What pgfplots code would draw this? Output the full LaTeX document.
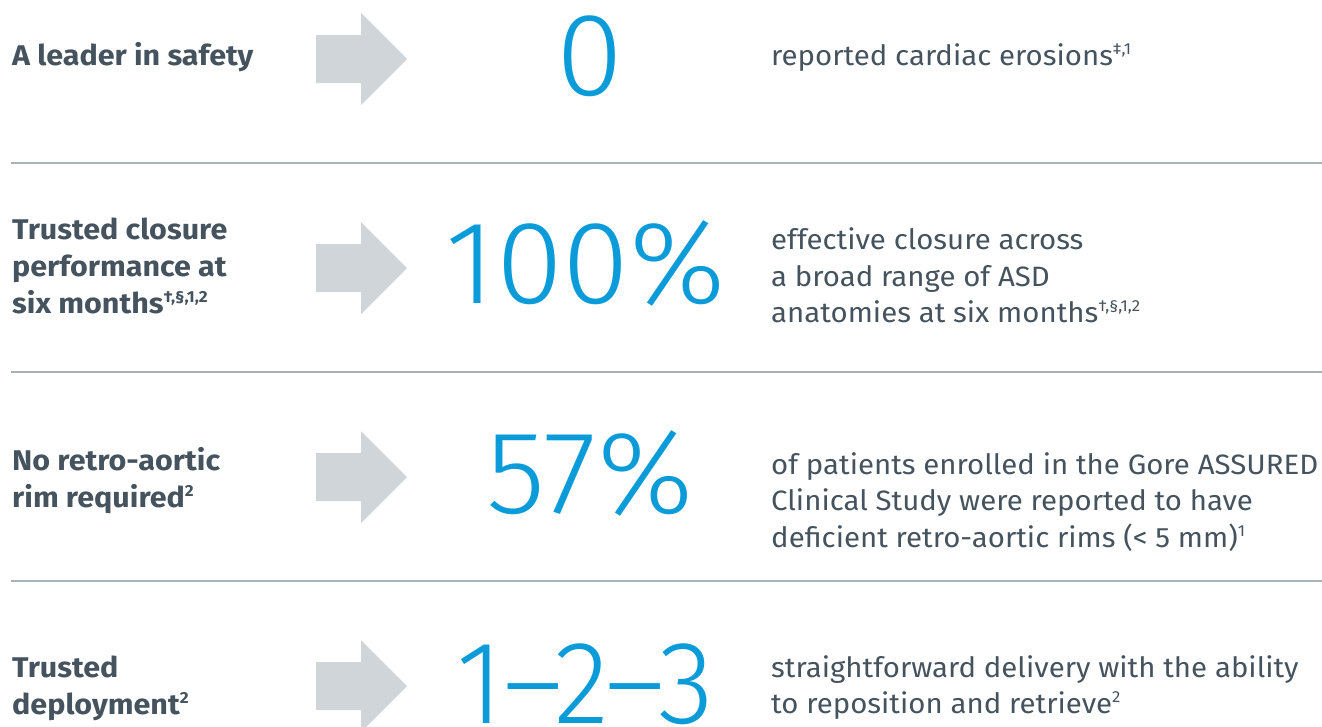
\documentclass[border=0pt]{standalone}
\usepackage{fontspec}
\setmainfont{Fira Sans}
\newfontfamily\hdfont[FakeStretch=1.07]{Fira Sans}
\newfontfamily\bdfont[FakeStretch=1.05]{Fira Sans}
\newfontfamily\thinfont[FakeStretch=1.03]{Fira Sans Light}
\newfontfamily\thinfontn[FakeStretch=0.97]{Fira Sans Light}
\newcommand\sups[1]{\raisebox{10.5pt}{\fontsize{16}{16}\selectfont #1}}
\usepackage{pgfplots}
\pgfplotsset{compat=1.18}
\definecolor{txt}{HTML}{45535E}
\definecolor{blu}{HTML}{0A9BD8}
\definecolor{arr}{HTML}{D0D5D9}
\definecolor{rulec}{HTML}{AAB2B9}
\begin{document}
\begin{tikzpicture}[
  hd/.style={anchor=base west, text=txt, inner sep=0pt, font=\fontsize{28.5}{31}\selectfont\hdfont\bfseries},
  bd/.style={anchor=base west, text=txt, inner sep=0pt, font=\fontsize{28}{31}\selectfont\bdfont},
  num/.style={anchor=base, text=blu, inner sep=0pt, font=\fontsize{118}{120}\selectfont\thinfont}]
\begin{axis}[scale only axis, width=1322pt, height=726pt,
  xmin=0, xmax=1322, ymin=0, ymax=726, y dir=reverse, hide axis, clip=false]
% separator rules
\addplot[draw=rulec, line width=2.2pt] coordinates {(11,163) (1322,163)};
\addplot[draw=rulec, line width=2.2pt] coordinates {(11,372) (1322,372)};
\addplot[draw=rulec, line width=2.2pt] coordinates {(11,581) (1322,581)};
% arrows
\addplot[fill=arr, draw=none] coordinates {(316,35) (361,35) (361,13) (407,59) (361,105) (361,83) (316,83)} --cycle;
\addplot[fill=arr, draw=none] coordinates {(316,244) (361,244) (361,222) (407,268) (361,314) (361,292) (316,292)} --cycle;
\addplot[fill=arr, draw=none] coordinates {(316,453) (361,453) (361,431) (407,477) (361,523) (361,501) (316,501)} --cycle;
\addplot[fill=arr, draw=none] coordinates {(316,662) (361,662) (361,640) (407,686) (361,732) (361,710) (316,710)} --cycle;
% headings
\node[hd] at (axis cs:12,65) {A leader in safety};
\node[hd] at (axis cs:12,239) {Trusted closure};
\node[hd] at (axis cs:12,276) {performance at};
\node[hd] at (axis cs:12,313) {six months\sups{†,§,1,2}};
\node[hd] at (axis cs:12,470) {No retro-aortic};
\node[hd] at (axis cs:12,507) {rim required\sups{2}};
\node[hd] at (axis cs:12,677) {Trusted};
\node[hd] at (axis cs:12,714) {deployment\sups{2}};
% big numbers
\node[num] at (axis cs:590,95) {0};
\node[num] at (axis cs:586,303) {100\%};
\node[num] at (axis cs:590,513) {57\%};
\node[num, font=\fontsize{118}{120}\selectfont\thinfontn] at (axis cs:585,723) {1–2–3};
% body text
\node[bd] at (axis cs:771,65) {reported cardiac erosions\sups{‡,1}};
\node[bd] at (axis cs:771,249) {effective closure across};
\node[bd] at (axis cs:771,286) {a broad range of ASD};
\node[bd] at (axis cs:771,322) {anatomies at six months\sups{†,§,1,2}};
\node[bd] at (axis cs:771,474) {of patients enrolled in the Gore ASSURED};
\node[bd] at (axis cs:771,510) {Clinical Study were reported to have};
\node[bd] at (axis cs:771,547) {deficient retro-aortic rims (< 5 mm)\sups{1}};
\node[bd] at (axis cs:771,677) {straightforward delivery with the ability};
\node[bd] at (axis cs:771,713) {to reposition and retrieve\sups{2}};
\coordinate (bl) at (axis cs:0,726);
\coordinate (tr) at (axis cs:1322,0);
\end{axis}
\pgfresetboundingbox
\path[use as bounding box] (bl) rectangle (tr);
\end{tikzpicture}
\end{document}
